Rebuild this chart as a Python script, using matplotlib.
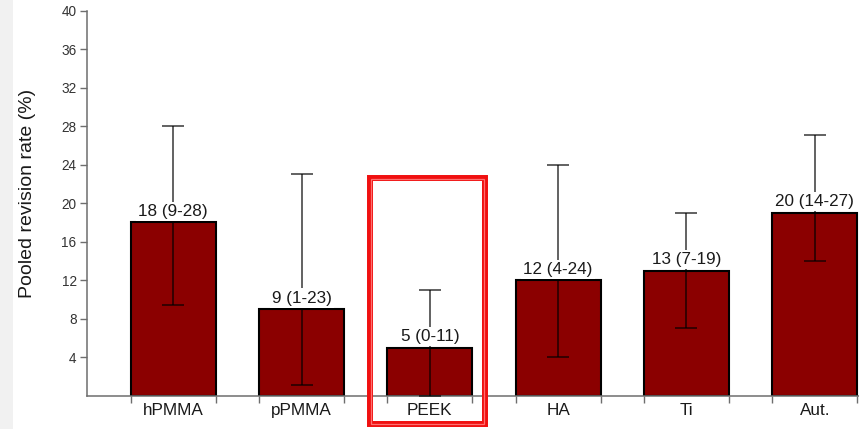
import matplotlib
matplotlib.use("Agg")
import matplotlib.pyplot as plt
from matplotlib.patches import Rectangle
import numpy as np

plt.rcParams['font.family'] = ['Liberation Sans', 'DejaVu Sans']

categories = ["hPMMA", "pPMMA", "PEEK", "HA", "Ti", "Aut."]
values = [18, 9, 5, 12, 13, 19]
lower = [9.4, 1.1, 0, 4, 7, 14]
upper = [28, 23, 11, 24, 19, 27.1]
labels = ["18 (9-28)", "9 (1-23)", "5 (0-11)", "12 (4-24)", "13 (7-19)", "20 (14-27)"]
yticks = [4, 8, 12, 16, 20, 24, 28, 32, 36, 40]

W, H = 859, 429
fig = plt.figure(figsize=(W / 100, H / 100), dpi=100)
fig.patch.set_facecolor("white")

# light gray strip on the left edge
fig.add_artist(Rectangle((0, 0), 13 / W, 1, transform=fig.transFigure,
                         facecolor="#f1f1f1", edgecolor="none", zorder=0))

ax_left, ax_right = 87, 859
ax_bottom, ax_top = 395.6, 10.8
ax = fig.add_axes([ax_left / W, (H - ax_bottom) / H,
                   (ax_right - ax_left) / W, (ax_bottom - ax_top) / H])
ax.set_facecolor("none")

x = np.arange(len(categories))
bw = 0.662
vals = np.array(values, dtype=float)
lo = np.array(lower, dtype=float)
hi = np.array(upper, dtype=float)

ax.bar(x, vals, width=bw, color="#8b0000", edgecolor="black", linewidth=1.5, zorder=2)
ax.errorbar(x, vals, yerr=[vals - lo, hi - vals], fmt="none", ecolor="black",
            alpha=0.62, elinewidth=1.4, capsize=7.8, capthick=1.4, zorder=3)

for xi, v, lab in zip(x, vals, labels):
    ax.annotate(lab, (xi, v), xytext=(0, 2.5), textcoords="offset points",
                ha="center", va="bottom", fontsize=12.3, color="#1a1a1a", zorder=4,
                bbox=dict(boxstyle="square,pad=0.12", facecolor="white", edgecolor="none"))

ax.set_xlim(-0.672, 5.345)
ax.set_ylim(0, 40)

for s in ["top", "right"]:
    ax.spines[s].set_visible(False)
for s in ["left", "bottom"]:
    ax.spines[s].set_color("#6e6e6e")
    ax.spines[s].set_linewidth(1.1)

ax.set_yticks(yticks)
ax.set_yticklabels([str(t) for t in yticks])
ax.tick_params(axis="y", length=5, width=1, color="#6e6e6e", pad=2.5,
               labelsize=9.8, labelcolor="#333333")

ax.set_xticks(x)
ax.set_xticklabels(categories)
ax.tick_params(axis="x", which="major", length=0, pad=5, labelsize=12.3,
               labelcolor="#1a1a1a")
edges = np.concatenate([x - bw / 2, x + bw / 2])
ax.set_xticks(edges, minor=True)
ax.tick_params(axis="x", which="minor", length=5, width=1, color="#6e6e6e")

ax.set_ylabel("Pooled revision rate (%)", fontsize=14, color="#1a1a1a")
ax.yaxis.set_label_coords(-0.066, 0.525)

# red highlight box around PEEK
def fig_rect(x0, y0, x1, y1, **kw):
    r = Rectangle((x0 / W, 1 - y1 / H), (x1 - x0) / W, (y1 - y0) / H,
                  transform=fig.transFigure, fill=False, **kw)
    fig.add_artist(r)

fig_rect(370.3, 178, 484.5, 424, edgecolor="#f01010", linewidth=4.3, zorder=10)
fig_rect(370.8, 178.5, 484.0, 423.5, edgecolor="#ff7070", linewidth=0.9, zorder=11)

fig.savefig("out.png", dpi=100)
